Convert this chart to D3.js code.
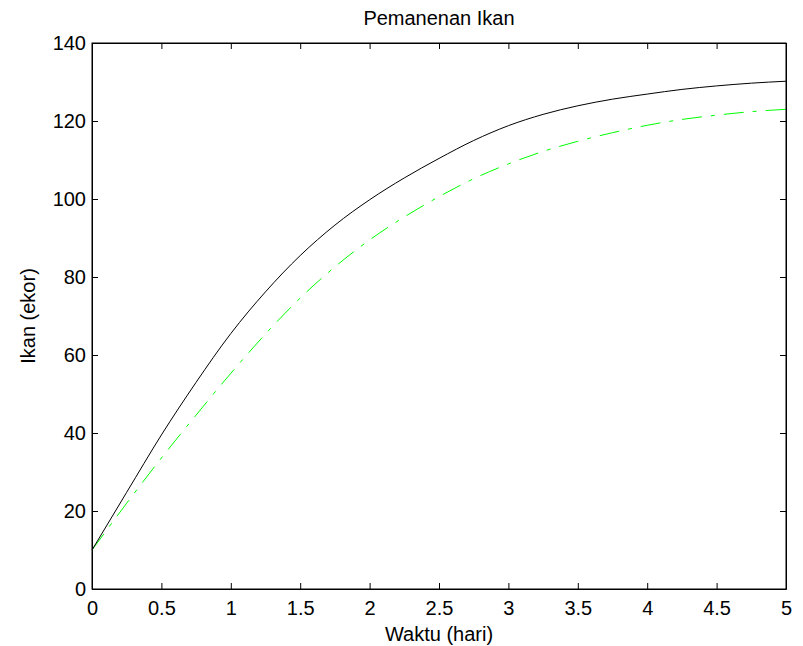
<!DOCTYPE html>
<html>
<head>
<meta charset="utf-8">
<script src="https://cdn.jsdelivr.net/npm/d3@7"></script>
<style>
  body { margin: 0; background: #fff; }
  text { font-family: "Liberation Sans", Arial, sans-serif; fill: #000; }
</style>
</head>
<body>
<div id="chart"></div>
<script>
// time (hari)
const waktu = [0, 0.25, 0.5, 0.75, 1, 1.25, 1.5, 1.75, 2, 2.25, 2.5, 2.75, 3, 3.25, 3.5, 3.75, 4, 4.25, 4.5, 4.75, 5];
// fish, solid black curve
const ikanA = [10, 24.8, 39.5, 53, 65.5, 76.2, 85.5, 93.3, 99.8, 105.4, 110.4, 115, 118.8, 121.7, 123.9, 125.6, 126.9, 128.1, 129, 129.7, 130.2];
// fish with harvesting, green dash-dot curve
const ikanB = [10, 22, 33.6, 44.6, 55.3, 65.4, 74.6, 82.6, 89.5, 95.4, 100.6, 105.2, 109, 112.2, 114.8, 117, 118.9, 120.4, 121.5, 122.4, 123];

const xTicks = [0, 0.5, 1, 1.5, 2, 2.5, 3, 3.5, 4, 4.5, 5];
const yTicks = [0, 20, 40, 60, 80, 100, 120, 140];

const width = 803, height = 646;
const margin = { top: 43, right: 17, bottom: 57, left: 92 };
const w = width - margin.left - margin.right;
const h = height - margin.top - margin.bottom;

const svg = d3.select('#chart')
  .append('svg')
  .attr('width', width)
  .attr('height', height);

const g = svg.append('g')
  .attr('transform', `translate(${margin.left},${margin.top})`);

const x = d3.scaleLinear().domain([0, 5]).range([0, w]);
const y = d3.scaleLinear().domain([0, 140]).range([h, 0]);

// lines
const line = d3.line()
  .x((d, i) => x(waktu[i]))
  .y(d => y(d))
  .curve(d3.curveMonotoneX);

g.append('path')
  .datum(ikanB)
  .attr('d', line)
  .attr('fill', 'none')
  .attr('stroke', '#00ff00')
  .attr('stroke-width', 1)
  .attr('stroke-dasharray', '20,9,4,9');

g.append('path')
  .datum(ikanA)
  .attr('d', line)
  .attr('fill', 'none')
  .attr('stroke', '#000')
  .attr('stroke-width', 1);

// axes (ticks pointing inward, mirrored on top/right)
const fontSize = '20px';
const tl = 6;

const xAxis = g.append('g')
  .attr('transform', `translate(0,${h})`)
  .call(d3.axisBottom(x).tickValues(xTicks).tickFormat(d3.format('')).tickSizeInner(-tl).tickSizeOuter(0).tickPadding(12));
const yAxis = g.append('g')
  .call(d3.axisLeft(y).tickValues(yTicks).tickSizeInner(-tl).tickSizeOuter(0).tickPadding(6));
const xTop = g.append('g')
  .call(d3.axisTop(x).tickValues(xTicks).tickFormat('').tickSizeInner(-tl).tickSizeOuter(0));
const yRight = g.append('g')
  .attr('transform', `translate(${w},0)`)
  .call(d3.axisRight(y).tickValues(yTicks).tickFormat('').tickSizeInner(-tl).tickSizeOuter(0));

[xAxis, yAxis, xTop, yRight].forEach(a => {
  a.selectAll('path').attr('stroke', '#000');
  a.selectAll('line').attr('stroke', '#000');
  a.selectAll('text')
    .style('font-family', '"Liberation Sans", Arial, sans-serif')
    .style('font-size', fontSize)
    .attr('fill', '#000');
});

// box outline
g.append('rect')
  .attr('width', w)
  .attr('height', h)
  .attr('fill', 'none')
  .attr('stroke', '#000')
  .attr('stroke-width', 1);

// titles
svg.append('text')
  .attr('x', margin.left + w / 2)
  .attr('y', 25)
  .attr('text-anchor', 'middle')
  .style('font-size', '20px')
  .text('Pemanenan Ikan');

svg.append('text')
  .attr('x', margin.left + w / 2)
  .attr('y', 641)
  .attr('text-anchor', 'middle')
  .style('font-size', '20px')
  .text('Waktu (hari)');

svg.append('text')
  .attr('transform', `translate(35,${margin.top + h / 2}) rotate(-90)`)
  .attr('text-anchor', 'middle')
  .style('font-size', '20px')
  .text('Ikan (ekor)');
</script>
</body>
</html>
